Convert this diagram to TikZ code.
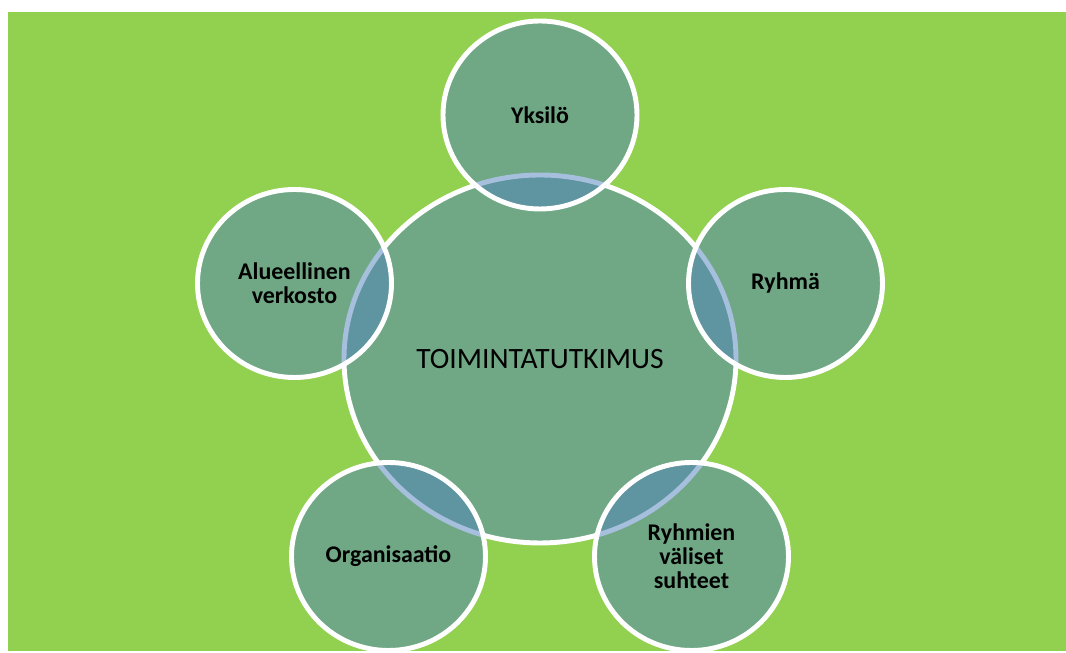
\documentclass[tikz,border=0pt]{standalone}
\usepackage{fontspec}
\setmainfont{Carlito}
\usetikzlibrary{shapes.geometric}
\definecolor{lawn}{HTML}{92D050}
\definecolor{accent}{HTML}{4F81BD}
\tikzset{
  hub/.style={ellipse, draw=white, line width=2.8pt, fill=accent, fill opacity=0.5,
              text opacity=1, minimum width=7.84cm, minimum height=7.36cm, inner sep=0pt,
              font=\fontsize{16.8}{20}\selectfont},                 % central circle
  sat/.style={ellipse, draw=white, line width=2.8pt, fill=accent, fill opacity=0.5,
              text opacity=1, minimum width=3.88cm, minimum height=3.76cm, inner sep=0pt,
              align=center, font=\fontsize{13.6}{13.6}\selectfont\bfseries}, % outer circle
}
\begin{document}
\begin{tikzpicture}
  \fill[white] (0,0) rectangle (21.32,13.02);
  \fill[lawn] (0.16,0) rectangle (21.32,12.78);
  \node[hub] (T) at (10.80,5.84) {TOIMINTATUTKIMUS};
  \node[sat] (Y) at (10.80,10.72) {Yksilö};
  \node[sat] (R) at (15.71,7.35)  {Ryhmä};
  \node[sat] (V) at (13.83,1.89)  {Ryhmien\\väliset\\suhteet};
  \node[sat] (O) at (7.77,1.89)   {Organisaatio};
  \node[sat] (A) at (5.89,7.35)   {Alueellinen\\verkosto};
\end{tikzpicture}
\end{document}
